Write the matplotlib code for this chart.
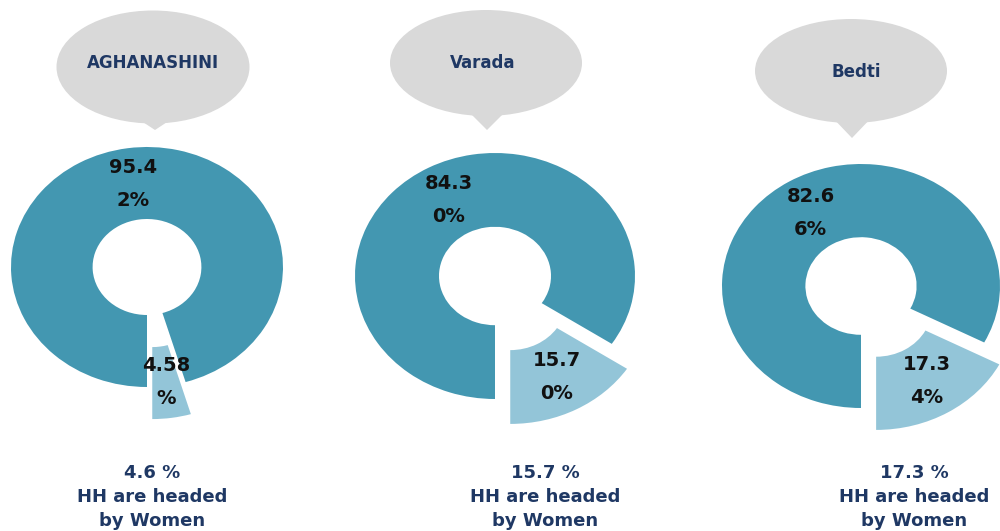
import matplotlib.pyplot as plt
from matplotlib.patches import Ellipse, Polygon

# data
rivers = ['AGHANASHINI', 'Varada', 'Bedti']
women_headed = [4.58, 15.70, 17.34]   # % of households headed by women
men_headed = [95.42, 84.30, 82.66]
summary = ['4.6 %', '15.7 %', '17.3 %']

# colours
main_col = '#4397B1'
light_col = '#93C5D8'
bubble_col = '#D9D9D9'
navy = '#1F3864'

W, H = 1000, 531
fig = plt.figure(figsize=(W / 100, H / 100), dpi=100)

# overlay axes in pixel coordinates for bubbles and captions
bg = fig.add_axes([0, 0, 1, 1])
bg.set_xlim(0, W)
bg.set_ylim(H, 0)
bg.axis('off')

# layout of each donut: centre x, centre y, radius x, radius y (pixels), explode
donuts = [(147, 267, 136, 120, 0.27),
          (495, 276, 140, 123, 0.23),
          (861, 286, 139, 122, 0.21)]
bubbles = [(153, 67, 193, 113, 155, 130),
           (486, 63, 192, 106, 487, 130),
           (851, 71, 192, 104, 852, 138)]
title_xy = [(153, 63), (483, 63), (856, 72)]
caption_x = [152, 545, 914]


def fmt(pct):
    s = f'{pct:.2f}%'
    return s[:4] + '\n' + s[4:]


lim = 1.5
for i, (cx, cy, rx, ry, ex) in enumerate(donuts):
    ax = fig.add_axes([(cx - lim * rx) / W, 1 - (cy + lim * ry) / H,
                       2 * lim * rx / W, 2 * lim * ry / H])
    ax.pie([women_headed[i], men_headed[i]], startangle=270, counterclock=True,
           colors=[light_col, main_col], explode=[ex, 0], radius=1,
           wedgeprops=dict(width=0.6, edgecolor='none'),
           autopct=fmt, pctdistance=0.7,
           textprops=dict(fontsize=14, fontweight='bold', color='#111111',
                          linespacing=1.9))
    ax.set_aspect('auto')
    ax.set_xlim(-lim, lim)
    ax.set_ylim(-lim, lim)
    ax.axis('off')

    # speech bubble with the river name
    bx, by, bw, bh, tx, ty = bubbles[i]
    bg.add_patch(Ellipse((bx, by), bw, bh, facecolor=bubble_col, edgecolor='none'))
    bg.add_patch(Polygon([(tx - 22, by + bh / 2 - 8), (tx + 22, by + bh / 2 - 8), (tx, ty)],
                         closed=True, facecolor=bubble_col, edgecolor='none'))
    bg.text(title_xy[i][0], title_xy[i][1], rivers[i], ha='center', va='center',
            fontsize=12, fontweight='bold', color=navy)

    bg.text(caption_x[i], 497, f'{summary[i]}\nHH are headed\nby Women',
            ha='center', va='center', fontsize=13, fontweight='bold',
            color=navy, linespacing=1.45)

fig.savefig('out.png', dpi=100)
